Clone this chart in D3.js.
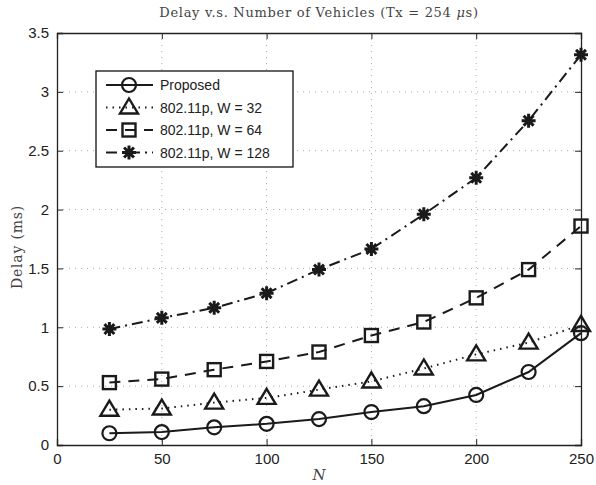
<!DOCTYPE html>
<html>
<head>
<meta charset="utf-8">
<script src="https://cdn.jsdelivr.net/npm/d3@7"></script>
<style>
  body { margin: 0; background: #fff; }
  svg { display: block; }
</style>
</head>
<body>
<div class="chart"></div>
<script>
// chart data
const nValues = [25, 50, 75, 100, 125, 150, 175, 200, 225, 250];
const proposed = [0.10, 0.11, 0.15, 0.18, 0.22, 0.28, 0.33, 0.425, 0.62, 0.95];
const w32 = [0.30, 0.31, 0.36, 0.40, 0.47, 0.54, 0.65, 0.77, 0.87, 1.02];
const w64 = [0.53, 0.56, 0.64, 0.71, 0.79, 0.93, 1.045, 1.25, 1.49, 1.86];
const w128 = [0.985, 1.08, 1.165, 1.29, 1.49, 1.665, 1.96, 2.27, 2.755, 3.315];
const seriesNames = ["Proposed", "802.11p, W = 32", "802.11p, W = 64", "802.11p, W = 128"];
const xTicks = [0, 50, 100, 150, 200, 250];
const yTicks = [0, 0.5, 1, 1.5, 2, 2.5, 3, 3.5];

const W = 596, H = 485;
const margin = { top: 33, right: 15, bottom: 40, left: 57 },
    w = W - margin.left - margin.right,
    h = H - margin.top - margin.bottom;

const svg = d3.select("div.chart")
    .append("svg")
    .attr("width", W)
    .attr("height", H);

const g = svg.append("g")
    .attr("transform", `translate(${margin.left},${margin.top})`);

const x = d3.scaleLinear().domain([0, 250]).range([0, w]);
const y = d3.scaleLinear().domain([0, 3.5]).range([h, 0]);

// grid (dotted)
g.selectAll(".vgrid")
    .data(xTicks.slice(1, -1))
    .enter().append("line")
    .attr("x1", d => x(d)).attr("x2", d => x(d))
    .attr("y1", 0).attr("y2", h)
    .attr("stroke", "#aaa").attr("stroke-width", 1)
    .attr("stroke-dasharray", "1,5");
g.selectAll(".hgrid")
    .data(yTicks.slice(1, -1))
    .enter().append("line")
    .attr("x1", 0).attr("x2", w)
    .attr("y1", d => y(d)).attr("y2", d => y(d))
    .attr("stroke", "#aaa").attr("stroke-width", 1)
    .attr("stroke-dasharray", "1,5");

// axes with inward ticks on all sides
const tickFont = "'Liberation Sans', Arial, sans-serif";
const serif = "'DejaVu Serif', serif";
const xAxis = g.append("g").attr("transform", `translate(0,${h})`)
    .call(d3.axisBottom(x).tickValues(xTicks).tickSize(-6).tickPadding(10).tickFormat(d3.format("d")));
const xTop = g.append("g")
    .call(d3.axisTop(x).tickValues(xTicks).tickSize(-6).tickFormat(""));
const yAxis = g.append("g")
    .call(d3.axisLeft(y).tickValues(yTicks).tickSize(-6).tickPadding(10).tickFormat(d => d));
const yRight = g.append("g").attr("transform", `translate(${w},0)`)
    .call(d3.axisRight(y).tickValues(yTicks).tickSize(-6).tickFormat(""));

[xAxis, xTop, yAxis, yRight].forEach(a => {
    a.select(".domain").attr("stroke", "#222").attr("stroke-width", 1.3);
    a.selectAll(".tick line").attr("stroke", "#222").attr("stroke-width", 1);
    a.selectAll("text")
        .attr("font-family", tickFont)
        .attr("font-size", "15px")
        .attr("fill", "#222");
});
xAxis.selectAll("text").attr("dy", "0.6em");
yAxis.selectAll("text").attr("dx", "2px");

// titles
const title = svg.append("text")
    .attr("x", margin.left + w / 2).attr("y", 17)
    .attr("text-anchor", "middle")
    .attr("font-family", serif)
    .attr("font-size", "13px")
    .attr("letter-spacing", "0.7px")
    .attr("fill", "#444");
title.append("tspan").text("Delay v.s. Number of Vehicles (Tx = 254 ");
title.append("tspan").attr("font-style", "italic").text("μ");
title.append("tspan").text("s)");

svg.append("text")
    .attr("x", margin.left + w / 2).attr("y", 480)
    .attr("text-anchor", "middle")
    .attr("font-family", serif)
    .attr("font-style", "italic")
    .attr("font-size", "15px")
    .attr("fill", "#444")
    .text("N");

svg.append("text")
    .attr("transform", "translate(22,247) rotate(-90)")
    .attr("text-anchor", "middle")
    .attr("font-family", serif)
    .attr("font-size", "14px")
    .attr("letter-spacing", "0.8px")
    .attr("fill", "#444")
    .text("Delay (ms)");

// series
const series = [
    { name: seriesNames[0], values: proposed, dash: null, marker: "circle" },
    { name: seriesNames[1], values: w32, dash: "1.5,5", marker: "triangle" },
    { name: seriesNames[2], values: w64, dash: "11,8", marker: "square" },
    { name: seriesNames[3], values: w128, dash: "11,5,2,5", marker: "star" }
];

const line = d3.line()
    .x((d, i) => x(nValues[i]))
    .y(d => y(d));

function drawMarker(sel, type) {
    const col = "#1a1a1a";
    if (type === "circle") {
        sel.append("circle").attr("r", 7)
            .attr("fill", "none").attr("stroke", col).attr("stroke-width", 2.2);
    } else if (type === "triangle") {
        sel.append("path").attr("d", "M0,-9L9,6L-9,6Z")
            .attr("fill", "none").attr("stroke", col).attr("stroke-width", 2.4)
            .attr("stroke-linejoin", "miter");
    } else if (type === "square") {
        sel.append("rect").attr("x", -6.5).attr("y", -6.5).attr("width", 13).attr("height", 13)
            .attr("fill", "none").attr("stroke", col).attr("stroke-width", 2.4);
    } else {
        const r = 7;
        let d = "";
        for (let k = 0; k < 4; k++) {
            const a = k * Math.PI / 4;
            d += `M${-r * Math.cos(a)},${-r * Math.sin(a)}L${r * Math.cos(a)},${r * Math.sin(a)}`;
        }
        sel.append("path").attr("d", d)
            .attr("fill", "none").attr("stroke", col).attr("stroke-width", 3);
    }
}

series.forEach(s => {
    g.append("path")
        .datum(s.values)
        .attr("d", line)
        .attr("fill", "none")
        .attr("stroke", "#1a1a1a")
        .attr("stroke-width", 2)
        .attr("stroke-dasharray", s.dash);
    g.selectAll(null)
        .data(s.values)
        .enter().append("g")
        .attr("transform", (d, i) => `translate(${x(nValues[i])},${y(d)})`)
        .each(function() { drawMarker(d3.select(this), s.marker); });
});

// legend
const legend = svg.append("g").attr("transform", "translate(96,71)");
legend.append("rect")
    .attr("width", 197).attr("height", 96)
    .attr("fill", "#fff").attr("stroke", "#111").attr("stroke-width", 1.3);
series.forEach((s, i) => {
    const row = legend.append("g").attr("transform", `translate(0,${14 + i * 22.5})`);
    row.append("line")
        .attr("x1", 10).attr("x2", 57)
        .attr("stroke", "#1a1a1a").attr("stroke-width", 2)
        .attr("stroke-dasharray", s.dash);
    drawMarker(row.append("g").attr("transform", "translate(33,0)"), s.marker);
    row.append("text")
        .attr("x", 64).attr("y", 5)
        .attr("font-family", tickFont)
        .attr("font-size", "14px")
        .attr("fill", "#222")
        .text(s.name);
});
</script>
</body>
</html>
